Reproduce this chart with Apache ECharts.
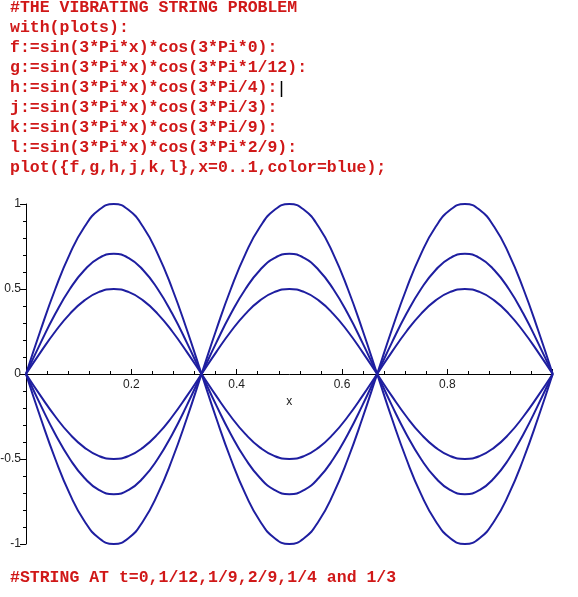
<!DOCTYPE html>
<html><head><meta charset="utf-8">
<script src="https://cdn.jsdelivr.net/npm/echarts@6.0.0/dist/echarts.min.js"></script>
<style>html,body{margin:0;padding:0;background:#fff}#c{width:578px;height:597px}</style>
</head><body><div id="c"></div>
<script>
const codeLines = [
  "#THE VIBRATING STRING PROBLEM",
  "with(plots):",
  "f:=sin(3*Pi*x)*cos(3*Pi*0):",
  "g:=sin(3*Pi*x)*cos(3*Pi*1/12):",
  "h:=sin(3*Pi*x)*cos(3*Pi/4):",
  "j:=sin(3*Pi*x)*cos(3*Pi/3):",
  "k:=sin(3*Pi*x)*cos(3*Pi/9):",
  "l:=sin(3*Pi*x)*cos(3*Pi*2/9):",
  "plot({f,g,h,j,k,l},x=0..1,color=blue);"
];
const footerText = "#STRING AT t=0,1/12,1/9,2/9,1/4 and 1/3";
const xName = "x";

const xs = [0, 0.0278, 0.0556, 0.0833, 0.1111, 0.1389, 0.1667, 0.1944, 0.2222, 0.25, 0.2778, 0.3056, 0.3333,
  0.3611, 0.3889, 0.4167, 0.4444, 0.4722, 0.5, 0.5278, 0.5556, 0.5833, 0.6111, 0.6389, 0.6667,
  0.6944, 0.7222, 0.75, 0.7778, 0.8056, 0.8333, 0.8611, 0.8889, 0.9167, 0.9444, 0.9722, 1];

// f : t = 0
const fVals = [0, 0.259, 0.5, 0.707, 0.866, 0.966, 1, 0.966, 0.866, 0.707, 0.5, 0.259, 0,
  -0.259, -0.5, -0.707, -0.866, -0.966, -1, -0.966, -0.866, -0.707, -0.5, -0.259, 0,
  0.259, 0.5, 0.707, 0.866, 0.966, 1, 0.966, 0.866, 0.707, 0.5, 0.259, 0];
// g : t = 1/12
const gVals = [0, 0.183, 0.354, 0.5, 0.612, 0.683, 0.707, 0.683, 0.612, 0.5, 0.354, 0.183, 0,
  -0.183, -0.354, -0.5, -0.612, -0.683, -0.707, -0.683, -0.612, -0.5, -0.354, -0.183, 0,
  0.183, 0.354, 0.5, 0.612, 0.683, 0.707, 0.683, 0.612, 0.5, 0.354, 0.183, 0];
// h : t = 1/4
const hVals = [0, -0.183, -0.354, -0.5, -0.612, -0.683, -0.707, -0.683, -0.612, -0.5, -0.354, -0.183, 0,
  0.183, 0.354, 0.5, 0.612, 0.683, 0.707, 0.683, 0.612, 0.5, 0.354, 0.183, 0,
  -0.183, -0.354, -0.5, -0.612, -0.683, -0.707, -0.683, -0.612, -0.5, -0.354, -0.183, 0];
// j : t = 1/3
const jVals = [0, -0.259, -0.5, -0.707, -0.866, -0.966, -1, -0.966, -0.866, -0.707, -0.5, -0.259, 0,
  0.259, 0.5, 0.707, 0.866, 0.966, 1, 0.966, 0.866, 0.707, 0.5, 0.259, 0,
  -0.259, -0.5, -0.707, -0.866, -0.966, -1, -0.966, -0.866, -0.707, -0.5, -0.259, 0];
// k : t = 1/9
const kVals = [0, 0.129, 0.25, 0.354, 0.433, 0.483, 0.5, 0.483, 0.433, 0.354, 0.25, 0.129, 0,
  -0.129, -0.25, -0.354, -0.433, -0.483, -0.5, -0.483, -0.433, -0.354, -0.25, -0.129, 0,
  0.129, 0.25, 0.354, 0.433, 0.483, 0.5, 0.483, 0.433, 0.354, 0.25, 0.129, 0];
// l : t = 2/9
const lVals = [0, -0.129, -0.25, -0.354, -0.433, -0.483, -0.5, -0.483, -0.433, -0.354, -0.25, -0.129, 0,
  0.129, 0.25, 0.354, 0.433, 0.483, 0.5, 0.483, 0.433, 0.354, 0.25, 0.129, 0,
  -0.129, -0.25, -0.354, -0.433, -0.483, -0.5, -0.483, -0.433, -0.354, -0.25, -0.129, 0];

const seriesNames = ["f", "g", "h", "j", "k", "l"];
const seriesVals = [fVals, gVals, hVals, jVals, kVals, lVals];

const RED = '#d01818';
const BLUE = '#1e1ea0';
const codeFont = 'bold 16.5px "Liberation Mono", "Courier New", monospace';

const graphics = codeLines.map((t, i) => ({
  type: 'text', x: 10, y: 7.5 + 20 * i,
  style: { text: t, font: codeFont, fill: RED, textAlign: 'left', textVerticalAlign: 'middle' }
}));
graphics.push({
  type: 'text', x: 10, y: 578,
  style: { text: footerText, font: codeFont, fill: RED, textAlign: 'left', textVerticalAlign: 'middle' }
});
graphics.push({
  type: 'line', shape: { x1: 281.5, y1: 81, x2: 281.5, y2: 97 },
  style: { stroke: '#000', lineWidth: 1.5 }
});

const chart = echarts.init(document.getElementById('c'), null, { renderer: 'canvas' });
chart.setOption({
  backgroundColor: '#fff',
  animation: false,
  grid: { left: 26, right: 25.3, top: 204, bottom: 53, containLabel: false, outerBoundsMode: 'none' },
  xAxis: {
    type: 'value', min: 0, max: 1, interval: 0.2,
    offset: -170,
    name: xName, nameLocation: 'middle', nameGap: 9,
    nameTextStyle: { fontFamily: 'Liberation Sans', fontSize: 12, color: '#222' },
    axisLine: { show: true, onZero: false, lineStyle: { color: '#000', width: 1 } },
    axisTick: { show: true, inside: true, length: 5, lineStyle: { color: '#000' } },
    minorTick: { show: true, splitNumber: 5, length: 3, lineStyle: { color: '#000' } },
    splitLine: { show: false },
    axisLabel: { showMinLabel: false, showMaxLabel: false, margin: 5,
      fontFamily: 'Liberation Sans', fontSize: 12, color: '#222',
      formatter: v => (v === 0 || v === 1) ? '' : String(v) }
  },
  yAxis: {
    type: 'value', min: -1, max: 1, interval: 0.5,
    axisLine: { show: true, onZero: false, lineStyle: { color: '#000', width: 1 } },
    axisTick: { show: true, inside: false, length: 6, lineStyle: { color: '#000' } },
    minorTick: { show: true, splitNumber: 5, length: 3, lineStyle: { color: '#000' } },
    splitLine: { show: false },
    axisLabel: { margin: 5, fontFamily: 'Liberation Sans', fontSize: 12, color: '#222' }
  },
  series: seriesVals.map((vals, s) => ({
    type: 'line', name: seriesNames[s], smooth: 0.5, showSymbol: false, symbol: 'none',
    lineStyle: { color: BLUE, width: 2 },
    data: xs.map((x, i) => [x, vals[i]])
  })),
  graphic: graphics
});
</script></body></html>
